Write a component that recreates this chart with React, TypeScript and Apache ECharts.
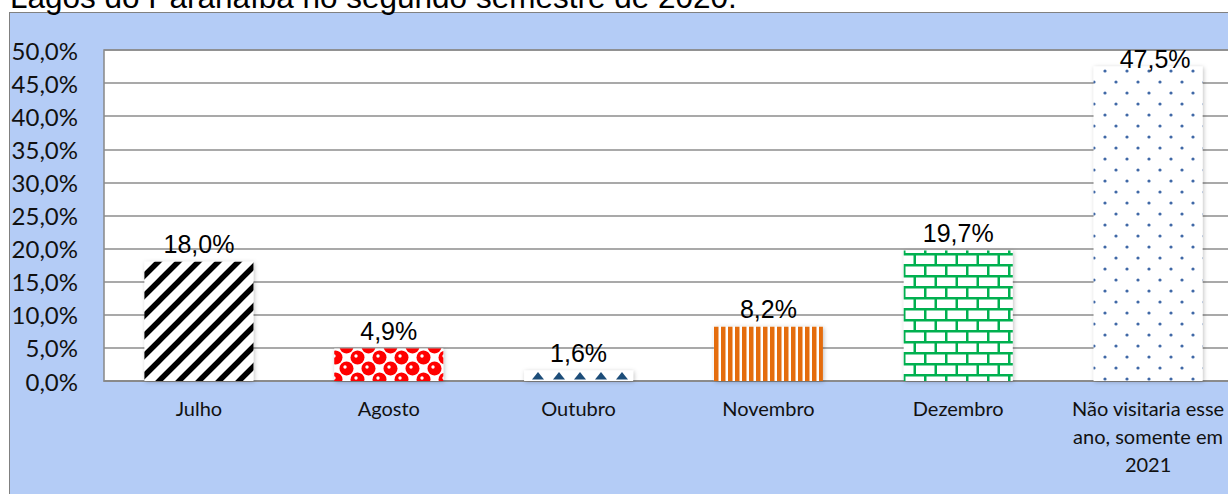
import React, { useEffect, useRef } from 'react';
import * as echarts from 'echarts';

const titleText = 'Lagos do Paranaíba no segundo semestre de 2020.';
const categories = [
  'Julho',
  'Agosto',
  'Outubro',
  'Novembro',
  'Dezembro',
  'Não visitaria esse\nano, somente em\n2021',
];
const values = [0.18, 0.049, 0.016, 0.082, 0.197, 0.475];
const yMin = 0;
const yMax = 0.5;
const yStep = 0.05;

const fmtPct = (v: number) => (v * 100).toFixed(1).replace('.', ',') + '%';

function tile(w: number, h: number, draw: (c: CanvasRenderingContext2D) => void) {
  const cv = document.createElement('canvas');
  cv.width = w;
  cv.height = h;
  const c = cv.getContext('2d')!;
  c.fillStyle = '#ffffff';
  c.fillRect(0, 0, w, h);
  draw(c);
  return { image: cv, repeat: 'repeat' } as any;
}

function makePatterns() {
  const stripes = tile(20, 20, (c) => {
    c.strokeStyle = '#000';
    c.lineWidth = 5.5;
    c.beginPath();
    c.moveTo(-10, 10); c.lineTo(10, -10);
    c.moveTo(-2, 22); c.lineTo(22, -2);
    c.moveTo(10, 30); c.lineTo(30, 10);
    c.stroke();
  });
  const spheres = tile(22, 22, (c) => {
    c.fillStyle = '#ff0000';
    const centers = [[5.5, 5.5], [16.5, 16.5], [-5.5, 16.5], [27.5, 5.5], [16.5, -5.5], [5.5, 27.5]];
    centers.forEach(([x, y]) => {
      c.beginPath(); c.arc(x, y, 7, 0, Math.PI * 2); c.fill();
    });
    c.fillStyle = '#ffffff';
    [[5.5, 5.5], [16.5, 16.5]].forEach(([x, y]) => {
      c.beginPath(); c.arc(x - 1.5, y - 1.5, 1.7, 0, Math.PI * 2); c.fill();
    });
  });
  const triangles = tile(21, 20, (c) => {
    c.fillStyle = '#1f4e79';
    c.beginPath();
    c.moveTo(13, 12);
    c.lineTo(19, 19.5);
    c.lineTo(7, 19.5);
    c.closePath();
    c.fill();
  });
  const vstripes = tile(7, 4, (c) => {
    c.fillStyle = '#e46c0a';
    c.fillRect(0, 0, 4.5, 4);
  });
  const bricks = tile(21, 22, (c) => {
    c.fillStyle = '#00b050';
    c.fillRect(0, 0, 21, 2.5);
    c.fillRect(0, 11, 21, 2.5);
    c.fillRect(0, 0, 2.5, 11);
    c.fillRect(10.5, 11, 2.5, 11);
  });
  const dots = tile(22, 22, (c) => {
    c.fillStyle = '#3f67a6';
    [[5, 5], [16, 16]].forEach(([x, y]) => {
      c.beginPath(); c.arc(x, y, 1.6, 0, Math.PI * 2); c.fill();
    });
  });
  return [stripes, spheres, triangles, vstripes, bricks, dots];
}

export default function App() {
  const ref = useRef<HTMLDivElement>(null);
  useEffect(() => {
    if (!ref.current) return;
    const chart = echarts.init(ref.current, undefined, { renderer: 'svg' });
    const patterns = makePatterns();
    const data = values.map((v, i) => {
      const item: any = {
        value: v,
        itemStyle: { color: patterns[i] },
      };
      if (i === values.length - 1) {
        item.label = { position: 'top', distance: -5, offset: [7, 0] };
      }
      return item;
    });
    chart.setOption({
      animation: false,
      backgroundColor: '#b4ccf6',
      graphic: [
        { type: 'rect', shape: { x: 0, y: 0, width: 1270, height: 12 }, style: { fill: '#ffffff' }, silent: true },
        { type: 'rect', shape: { x: 0, y: 0, width: 9, height: 494 }, style: { fill: '#ffffff' }, silent: true },
        { type: 'line', shape: { x1: 9, y1: 12.5, x2: 1270, y2: 12.5 }, style: { stroke: '#808080', lineWidth: 1 }, silent: true },
        { type: 'line', shape: { x1: 9.5, y1: 12, x2: 9.5, y2: 494 }, style: { stroke: '#808080', lineWidth: 1 }, silent: true },
        {
          type: 'text',
          x: 10,
          y: -3,
          style: {
            text: titleText,
            fill: '#000',
            font: '31.5px "Liberation Sans", Arial, sans-serif',
            verticalAlign: 'middle',
          },
          silent: true,
        },
      ],
      grid: {
        left: 104,
        top: 50,
        width: 1139,
        height: 331,
        show: true,
        backgroundColor: '#ffffff',
        borderColor: '#888888',
        borderWidth: 1.5,
      },
      xAxis: {
        type: 'category',
        data: categories,
        axisTick: { show: false },
        axisLine: { lineStyle: { color: '#888888', width: 1.5 } },
        axisLabel: {
          interval: 0,
          fontFamily: 'Lato, "Open Sans", sans-serif',
          fontSize: 20,
          lineHeight: 28,
          color: '#111',
          margin: 13,
        },
      },
      yAxis: {
        type: 'value',
        min: yMin,
        max: yMax,
        interval: yStep,
        axisLine: { show: false },
        axisTick: { show: false },
        splitLine: { lineStyle: { color: '#8c8c8c', width: 1.5 } },
        axisLabel: {
          formatter: (v: number) => fmtPct(v),
          fontFamily: 'Lato, "Open Sans", sans-serif',
          fontSize: 24,
          color: '#111',
          margin: 26,
        },
      },
      series: [
        {
          type: 'bar',
          data,
          barWidth: 109,
          itemStyle: {
            shadowBlur: 4,
            shadowColor: 'rgba(0,0,0,0.25)',
            shadowOffsetX: 1,
            shadowOffsetY: 1,
          },
          label: {
            show: true,
            position: 'top',
            distance: 5,
            formatter: (p: any) => fmtPct(p.value),
            fontFamily: '"Liberation Sans", Arial, sans-serif',
            fontSize: 25,
            color: '#000',
          },
        },
      ],
    });
    return () => chart.dispose();
  }, []);
  return (
    <div style={{ position: 'fixed', left: 0, top: 0, width: 1228, height: 494, overflow: 'hidden' }}>
      <div ref={ref} style={{ width: 1270, height: 494 }} />
    </div>
  );
}
